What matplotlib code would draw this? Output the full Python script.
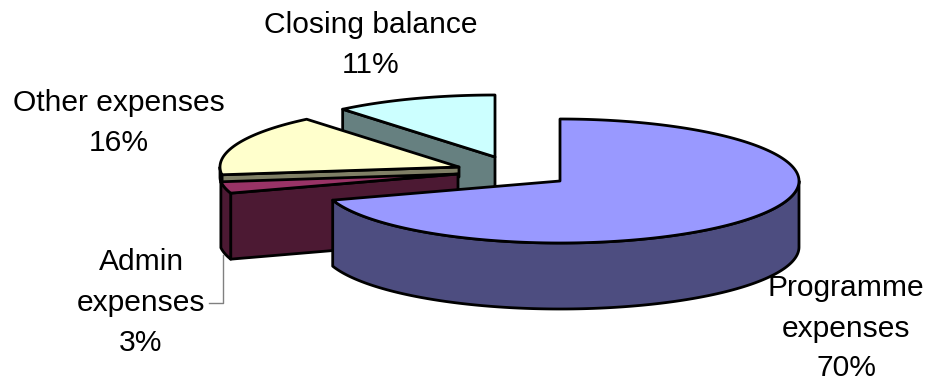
import numpy as np
import matplotlib
matplotlib.use("Agg")
import matplotlib.pyplot as plt

# Data
categories = ["Programme\nexpenses", "Admin\nexpenses", "Other expenses", "Closing balance"]
values = [70, 3, 16, 11]

# Styles
top_colors = ["#9999FF", "#993366", "#FFFFCC", "#CCFFFF"]
side_colors = ["#4D4D80", "#4C1933", "#808066", "#668080"]
centers = [(560, 181), (458, 174), (459, 167), (495, 157)]
wall_depths = [66, 66, 10, 66]
label_pos = [(846, 288, 329, 368), (141, 262, 303, 343), (119, 103, 143), (371, 25, 65)]
RX, RY = 239, 62

plt.rcParams["font.family"] = ["Liberation Sans", "DejaVu Sans"]
fig = plt.figure(figsize=(9.3, 3.81), dpi=100)
ax = fig.add_axes([0, 0, 1, 1])
ax.set_xlim(0, 930)
ax.set_ylim(381, 0)
ax.axis("off")


def rim(c, a0, a1):
    """Rim points; angles clockwise from 12 o'clock, in degrees."""
    t = np.radians(np.linspace(a0, a1, max(int(abs(a1 - a0)) * 2, 2)))
    return c[0] + RX * np.sin(t), c[1] - RY * np.cos(t)


def wedge(i, a0, a1, z):
    c = centers[i]
    d = wall_depths[i]
    kw = dict(edgecolor="black", linewidth=2.0, joinstyle="round", zorder=z)
    # Cut face at the start angle is visible for slices in the back-left half
    if i > 0:
        x, y = rim(c, a0, a0)
        x0, y0 = x[0], y[0]
        ax.fill([x0, c[0], c[0], x0], [y0, c[1], c[1] + d, y0 + d],
                facecolor=side_colors[i], **kw)
    # Outer wall, the part of the rim that faces the viewer
    lo, hi = max(a0, 90), min(a1, 270)
    if lo < hi:
        x, y = rim(c, lo, hi)
        ax.fill(np.r_[x, x[::-1]], np.r_[y, y[::-1] + d],
                facecolor=side_colors[i], **kw)
    # Top
    x, y = rim(c, a0, a1)
    ax.fill(np.r_[c[0], x], np.r_[c[1], y], facecolor=top_colors[i], **kw)


# Slices clockwise from 12 o'clock
edges = np.r_[0, np.cumsum(values)] / np.sum(values) * 360.0
for i in [3, 2, 1, 0]:
    wedge(i, edges[i], edges[i + 1], 10 + (3 - i))

# Labels
for cat, val, pos in zip(categories, values, label_pos):
    lines = cat.split("\n") + [f"{val}%"]
    for line, y in zip(lines, pos[1:]):
        ax.text(pos[0], y, line, ha="center", va="center", fontsize=21.6,
                color="black", zorder=20)

# Leader line for Admin expenses
ax.plot([223, 223, 209], [255, 303, 303], color="#808080", linewidth=1.0, zorder=5)

fig.savefig("out.png", dpi=100)
